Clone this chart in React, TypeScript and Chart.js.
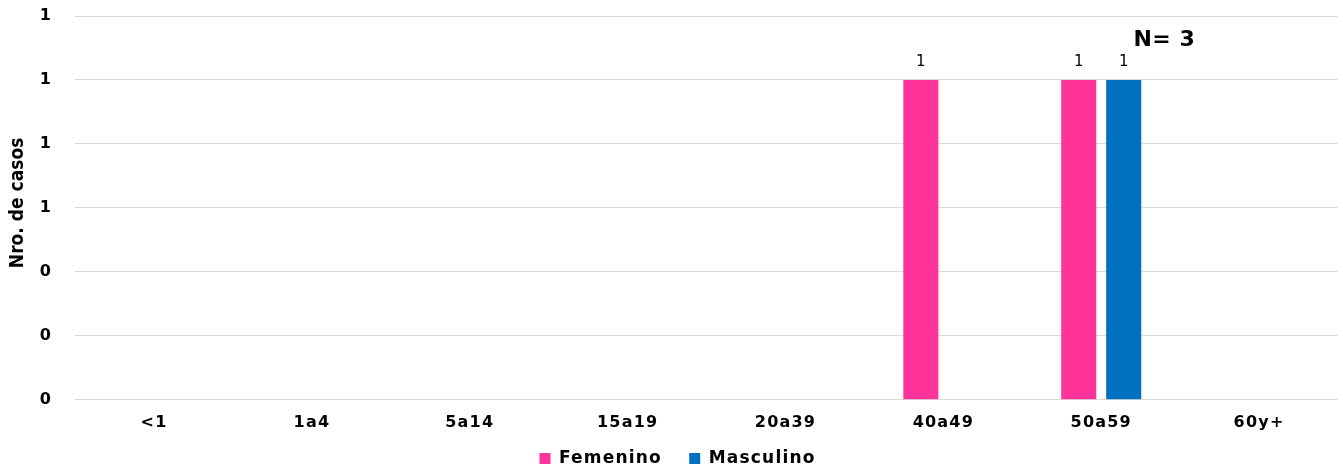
import React, { useEffect, useRef } from "react";
import { Chart, registerables } from "chart.js";

Chart.register(...registerables);

const categories = ["<1", "1a4", "5a14", "15a19", "20a39", "40a49", "50a59", "60y+"];
const femenino = [0, 0, 0, 0, 0, 1, 1, 0];
const masculino = [0, 0, 0, 0, 0, 0, 1, 0];
const totalLabel = "N= 3";
const yTitle = "Nro. de casos";

const FONT = "'DejaVu Sans', Verdana, sans-serif";
const NARROW = "'Liberation Sans Narrow', 'DejaVu Sans Condensed', sans-serif";

const spacingPlugin = {
  id: "spacing",
  beforeInit(chart: any) {
    chart.ctx.letterSpacing = "1.2px";
  },
  beforeDraw(chart: any) {
    chart.ctx.letterSpacing = "1.2px";
  },
};

const labelsPlugin = {
  id: "barLabels",
  afterDatasetsDraw(chart: any) {
    const ctx = chart.ctx;
    const area = chart.chartArea;
    ctx.save();
    ctx.letterSpacing = "0px";
    ctx.font = `normal 15px ${FONT}`;
    ctx.fillStyle = "#000";
    ctx.textAlign = "center";
    ctx.textBaseline = "bottom";
    chart.data.datasets.forEach((ds: any, i: number) => {
      const meta = chart.getDatasetMeta(i);
      meta.data.forEach((bar: any, j: number) => {
        const v = ds.data[j];
        if (v > 0) ctx.fillText(String(v), bar.x, bar.y - 10);
      });
    });
    const xs = chart.scales.x;
    const ys = chart.scales.y;
    ctx.font = `bold 22px ${FONT}`;
    ctx.letterSpacing = "0.5px";
    ctx.textBaseline = "middle";
    ctx.fillText(totalLabel, xs.getPixelForValue(6.4), ys.getPixelForValue(1.125));

    // y-axis title
    ctx.letterSpacing = "0px";
    ctx.font = `bold 19px ${NARROW}`;
    ctx.translate(18, (area.top + area.bottom) / 2 - 5);
    ctx.rotate(-Math.PI / 2);
    ctx.fillText(yTitle, 0, 0);
    ctx.restore();
  },
};

export default function App() {
  const ref = useRef<HTMLCanvasElement>(null);
  useEffect(() => {
    document.body.style.margin = "0";
    const chart = new Chart(ref.current!, {
      type: "bar",
      data: {
        labels: categories,
        datasets: [
          { label: "Femenino", data: femenino, backgroundColor: "#FF3399" },
          { label: "Masculino", data: masculino, backgroundColor: "#0070C0" },
        ],
      },
      options: {
        animation: false,
        responsive: false,
        datasets: { bar: { categoryPercentage: 0.57, barPercentage: 0.78 } },
        layout: { padding: { top: 16, right: 5, left: 18, bottom: -6 } },
        plugins: {
          legend: {
            position: "bottom",
            labels: {
              boxWidth: 11,
              boxHeight: 11,
              padding: 13,
              color: "#000",
              font: { family: FONT, weight: "bold", size: 17 },
              generateLabels(chart: any) {
                const items = Chart.defaults.plugins.legend.labels.generateLabels(chart);
                return items.map((it: any, i: number) =>
                  ({ ...it, text: it.text + (i < items.length - 1 ? "  " : "    ") })
                );
              },
            },
          },
          tooltip: { enabled: false },
        },
        scales: {
          x: {
            grid: { display: false },
            border: { display: false },
            ticks: { color: "#000", padding: 5, font: { family: FONT, weight: "bold", size: 16 } },
          },
          y: {
            min: 0,
            max: 1.2,
            afterFit(scale: any) {
              scale.paddingTop = 0;
            },
            grid: { color: "#d9d9d9", lineWidth: 1, drawTicks: false },
            border: { display: false },
            ticks: {
              stepSize: 0.2,
              color: "#000",
              padding: 23,
              font: { family: FONT, weight: "bold", size: 16 },
              callback: (v: any) => String(Math.round(Number(v))),
            },
          },
        },
      },
      plugins: [spacingPlugin, labelsPlugin],
    });
    return () => chart.destroy();
  }, []);
  return <canvas ref={ref} width={1343} height={471} style={{ display: "block" }} />;
}
